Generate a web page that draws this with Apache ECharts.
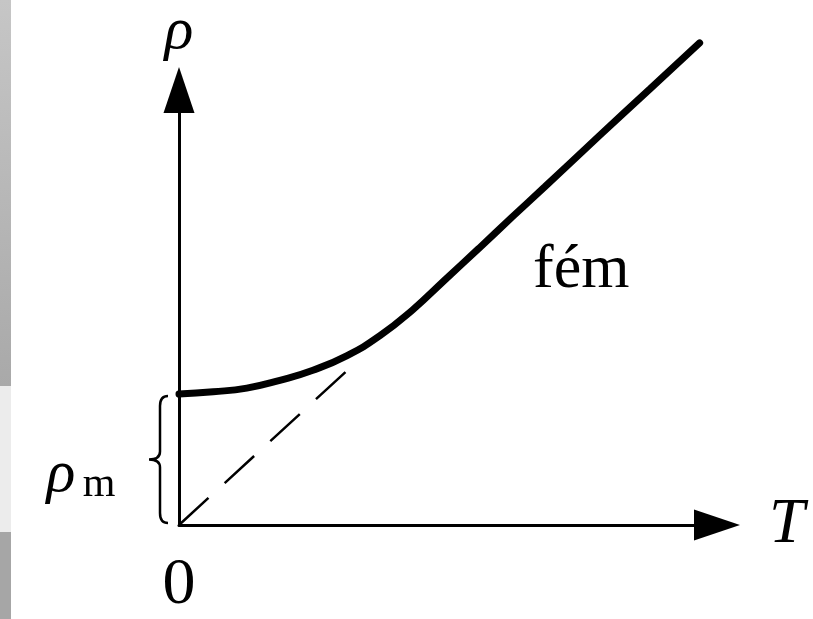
<!DOCTYPE html>
<html>
<head>
<meta charset="utf-8">
<script src="https://cdn.jsdelivr.net/npm/echarts@6/dist/echarts.min.js"></script>
<style>html,body{margin:0;padding:0;background:#fff;}#c{width:813px;height:619px;}</style>
</head>
<body>
<div id="c"></div>
<script>
// Resistivity of a metal vs temperature (schematic)
const curveT   = [0, 6.1, 12.1, 18.0, 23.9, 30.0, 35.8, 41.7, 47.6, 53.5, 59.4, 65.3, 75.0, 84.0, 92.9];
const curveRho = [28.6, 29.1, 29.9, 31.6, 33.8, 37.0, 41.3, 47.0, 53.7, 60.4, 67.2, 73.9, 85.0, 95.2, 105.3];
const dashT    = [0, 29.8];
const dashRho  = [0, 33.5];
const rhoM     = 28.6;
const xMax = 96, yMax = 95;
const xName = 'T', yName = 'ρ', zeroLabel = '0', metalLabel = 'fém', rhoMMain = 'ρ', rhoMSub = 'm';

const serif = '"Liberation Serif", "DejaVu Serif", serif';
const chart = echarts.init(document.getElementById('c'), null, {renderer: 'canvas'});
const zip = (a, b) => a.map((v, i) => [v, b[i]]);

chart.setOption({
  animation: false,
  backgroundColor: '#ffffff',
  grid: {left: 179, right: 96, top: 90, bottom: 84},
  xAxis: {
    type: 'value', min: 0, max: xMax, interval: xMax,
    axisLine: {show: true, onZero: false, lineStyle: {color: '#000', width: 3},
      symbol: ['none', 'triangle'], symbolSize: [31, 46]},
    axisTick: {show: false}, splitLine: {show: false},
    axisLabel: {formatter: v => (v === 0 ? zeroLabel : ''), fontSize: 66, fontFamily: serif, color: '#000', margin: 28},
    name: xName, nameLocation: 'end', nameGap: 52,
    nameTextStyle: {fontSize: 64, fontStyle: 'italic', fontFamily: serif, color: '#000', padding: [10, 0, 0, 0]}
  },
  yAxis: {
    type: 'value', min: 0, max: yMax, interval: yMax,
    axisLine: {show: true, onZero: false, lineStyle: {color: '#000', width: 3},
      symbol: ['none', 'triangle'], symbolSize: [31, 46]},
    axisTick: {show: false}, splitLine: {show: false}, axisLabel: {show: false},
    name: yName, nameLocation: 'end', nameGap: 28,
    nameTextStyle: {fontSize: 60, fontStyle: 'italic', fontFamily: serif, color: '#000'}
  },
  graphic: [
    {type: 'rect', shape: {x: 0, y: 0, width: 11, height: 386}, silent: true,
      style: {fill: new echarts.graphic.LinearGradient(0, 0, 0, 1, [{offset: 0, color: '#c6c6c6'}, {offset: 1, color: '#a9a9a9'}])}},
    {type: 'rect', shape: {x: 0, y: 386, width: 11, height: 146}, silent: true, style: {fill: '#ececec'}},
    {type: 'rect', shape: {x: 0, y: 532, width: 11, height: 87}, silent: true, style: {fill: '#a6a6a6'}},
    {type: 'text', left: 533, top: 240, silent: true,
      style: {text: metalLabel, font: '62px ' + serif, fill: '#000'}}
  ],
  series: [
    {type: 'line', data: zip(dashT, dashRho), showSymbol: false, silent: true,
      lineStyle: {color: '#000', width: 2.5, type: [40, 22]}},
    {type: 'line', data: zip(curveT, curveRho), smooth: 0.5, showSymbol: false, clip: false, silent: true,
      lineStyle: {color: '#000', width: 7, cap: 'round'}},
    {type: 'custom', data: [[0, rhoM]], silent: true, clip: false,
      renderItem: function (params, api) {
        const top = api.coord([0, api.value(1)]);
        const bot = api.coord([0, 0]);
        const x0 = top[0];
        const yt = top[1] + 2, yb = bot[1] - 2, mid = (yt + yb) / 2;
        const xe = x0 - 11, xv = x0 - 19, xt = x0 - 30;
        const p = `M${xe},${yt} Q${xv},${yt} ${xv},${yt + 10} L${xv},${mid - 8} Q${xv},${mid} ${xt},${mid} ` +
                  `Q${xv},${mid} ${xv},${mid + 8} L${xv},${yb - 10} Q${xv},${yb} ${xe},${yb}`;
        return {type: 'group', children: [
          {type: 'path', shape: {pathData: p}, style: {fill: 'none', stroke: '#000', lineWidth: 2.5}},
          {type: 'text', style: {text: rhoMMain, x: x0 - 118, y: mid + 16, align: 'center', verticalAlign: 'middle',
            font: 'italic 60px ' + serif, fill: '#000'}},
          {type: 'text', style: {text: rhoMSub, x: x0 - 80, y: mid + 25, align: 'center', verticalAlign: 'middle',
            font: '42px ' + serif, fill: '#000'}}
        ]};
      }
    }
  ]
});
</script>
</body>
</html>
